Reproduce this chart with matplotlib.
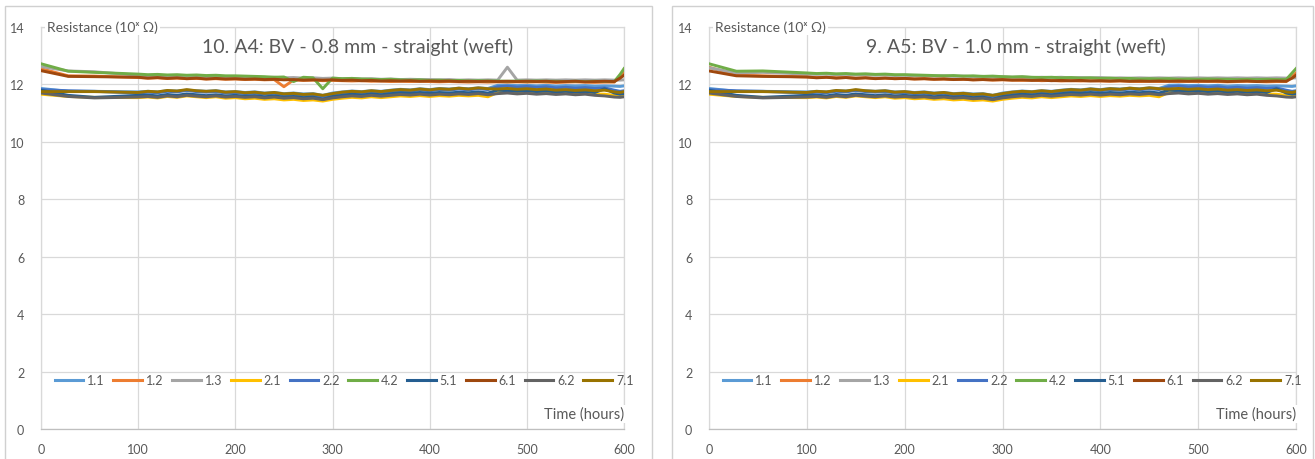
import matplotlib
matplotlib.use("Agg")
import matplotlib.pyplot as plt
from matplotlib.patches import Rectangle

plt.rcParams['font.family'] = ['Lato', 'DejaVu Sans']

# ---------------- data ----------------
hours = [0, 28, 55] + list(range(100, 600, 10)) + [596, 600]

series_names = ["1.1", "1.2", "1.3", "2.1", "2.2", "4.2", "5.1", "6.1", "6.2", "7.1"]
series_colors = ["#5B9BD5", "#ED7D31", "#A5A5A5", "#FFC000", "#4472C4",
                 "#70AD47", "#255E91", "#9E480E", "#636363", "#997300"]

# lower group (same in both panels)
s11 = [11.86, 11.76, 11.76,
       11.74, 11.76, 11.74, 11.78, 11.77, 11.80, 11.78, 11.76, 11.78, 11.74,
       11.75, 11.72, 11.74, 11.70, 11.72, 11.68, 11.70, 11.67, 11.68, 11.62,
       11.70, 11.74, 11.77, 11.75, 11.78, 11.76, 11.80, 11.83, 11.81, 11.85,
       11.82, 11.86, 11.84, 11.87, 11.85, 11.88, 11.86, 11.97, 11.98, 11.96,
       11.97, 11.95, 11.97, 11.94, 11.96, 11.95, 11.96, 11.94, 11.95, 11.94,
       11.93, 11.95]
s21 = [11.66, 11.58, 11.55,
       11.54, 11.56, 11.53, 11.58, 11.55, 11.60, 11.57, 11.54, 11.57, 11.52,
       11.54, 11.50, 11.52, 11.48, 11.50, 11.46, 11.48, 11.44, 11.46, 11.42,
       11.48, 11.52, 11.55, 11.53, 11.57, 11.54, 11.57, 11.60, 11.58, 11.61,
       11.58, 11.61, 11.59, 11.62, 11.60, 11.62, 11.57, 11.72, 11.74, 11.71,
       11.73, 11.70, 11.72, 11.69, 11.71, 11.68, 11.70, 11.67, 11.66, 11.62,
       11.60, 11.62]
s22 = [11.82, 11.78, 11.76,
       11.70, 11.73, 11.71, 11.76, 11.74, 11.79, 11.75, 11.73, 11.75, 11.70,
       11.72, 11.68, 11.70, 11.66, 11.69, 11.64, 11.66, 11.62, 11.64, 11.55,
       11.66, 11.70, 11.73, 11.71, 11.75, 11.72, 11.76, 11.79, 11.77, 11.81,
       11.78, 11.82, 11.80, 11.84, 11.81, 11.85, 11.82, 11.92, 11.94, 11.91,
       11.93, 11.90, 11.92, 11.88, 11.90, 11.87, 11.89, 11.86, 11.88, 11.80,
       11.76, 11.78]
s51 = [11.80, 11.62, 11.55,
       11.62, 11.63, 11.60, 11.65, 11.62, 11.67, 11.64, 11.61, 11.64, 11.60,
       11.62, 11.59, 11.61, 11.57, 11.60, 11.56, 11.58, 11.54, 11.56, 11.48,
       11.58, 11.62, 11.66, 11.63, 11.67, 11.64, 11.68, 11.71, 11.69, 11.72,
       11.69, 11.72, 11.70, 11.73, 11.71, 11.74, 11.70, 11.80, 11.78, 11.76,
       11.78, 11.75, 11.77, 11.74, 11.76, 11.73, 11.75, 11.72, 11.85, 11.70,
       11.66, 11.68]
s62 = [11.70, 11.58, 11.53,
       11.56, 11.58, 11.55, 11.60, 11.57, 11.62, 11.59, 11.57, 11.60, 11.56,
       11.58, 11.55, 11.57, 11.53, 11.56, 11.52, 11.54, 11.50, 11.52, 11.47,
       11.53, 11.57, 11.60, 11.58, 11.62, 11.59, 11.62, 11.65, 11.63, 11.66,
       11.63, 11.66, 11.64, 11.67, 11.65, 11.68, 11.64, 11.68, 11.70, 11.67,
       11.69, 11.66, 11.68, 11.65, 11.67, 11.64, 11.66, 11.62, 11.60, 11.56,
       11.55, 11.57]
s71 = [11.75, 11.75, 11.75,
       11.72, 11.76, 11.74, 11.79, 11.77, 11.82, 11.78, 11.76, 11.78, 11.73,
       11.75, 11.71, 11.73, 11.69, 11.72, 11.67, 11.69, 11.65, 11.67, 11.62,
       11.68, 11.73, 11.76, 11.74, 11.78, 11.75, 11.79, 11.82, 11.80, 11.84,
       11.81, 11.85, 11.83, 11.87, 11.84, 11.88, 11.85, 11.84, 11.86, 11.83,
       11.85, 11.82, 11.84, 11.80, 11.82, 11.79, 11.81, 11.78, 11.80, 11.74,
       11.72, 11.75]

# upper group, left panel (A4)
a4_12 = [12.55, 12.30, 12.29,
         12.24, 12.22, 12.23, 12.21, 12.22, 12.20, 12.21, 12.19, 12.20, 12.18,
         12.19, 12.17, 12.18, 12.16, 12.17, 11.92, 12.16, 12.14, 12.15, 12.13,
         12.14, 12.13, 12.12, 12.13, 12.11, 12.12, 12.10, 12.11, 12.10, 12.11,
         12.10, 12.09, 12.10, 12.09, 12.08, 12.09, 12.08, 12.09, 12.08, 12.09,
         12.08, 12.09, 12.08, 12.07, 12.08, 12.09, 12.08, 12.07, 12.08, 12.08,
         12.30, 12.42]
a4_13 = [12.62, 12.47, 12.44,
         12.32, 12.30, 12.31, 12.29, 12.30, 12.28, 12.29, 12.27, 12.28, 12.26,
         12.27, 12.25, 12.26, 12.24, 12.25, 12.23, 12.24, 12.22, 12.23, 12.21,
         12.22, 12.20, 12.21, 12.19, 12.20, 12.18, 12.19, 12.17, 12.18, 12.17,
         12.17, 12.16, 12.17, 12.15, 12.16, 12.15, 12.16, 12.15, 12.60, 12.15,
         12.16, 12.15, 12.16, 12.15, 12.16, 12.15, 12.16, 12.15, 12.16, 12.15,
         12.15, 12.16]
a4_42 = [12.72, 12.46, 12.42,
         12.36, 12.34, 12.35, 12.33, 12.34, 12.32, 12.33, 12.31, 12.32, 12.30,
         12.30, 12.29, 12.28, 12.27, 12.25, 12.26, 12.10, 12.25, 12.23, 11.85,
         12.22, 12.20, 12.21, 12.19, 12.18, 12.17, 12.18, 12.16, 12.15, 12.16,
         12.14, 12.15, 12.13, 12.14, 12.12, 12.13, 12.12, 12.12, 12.11, 12.12,
         12.11, 12.12, 12.11, 12.11, 12.10, 12.11, 12.10, 12.11, 12.10, 12.10,
         12.35, 12.55]
a4_61 = [12.48, 12.28, 12.27,
         12.25, 12.22, 12.24, 12.21, 12.23, 12.20, 12.22, 12.19, 12.21, 12.19,
         12.20, 12.18, 12.19, 12.17, 12.18, 12.16, 12.17, 12.15, 12.16, 12.15,
         12.16, 12.14, 12.15, 12.13, 12.14, 12.12, 12.13, 12.12, 12.13, 12.11,
         12.12, 12.11, 12.12, 12.10, 12.11, 12.10, 12.11, 12.10, 12.11, 12.10,
         12.11, 12.10, 12.11, 12.09, 12.10, 12.11, 12.09, 12.10, 12.11, 12.10,
         12.22, 12.32]

# upper group, right panel (A5)
a5_12 = [12.60, 12.32, 12.30,
         12.26, 12.24, 12.25, 12.23, 12.24, 12.22, 12.23, 12.21, 12.22, 12.20,
         12.21, 12.19, 12.20, 12.18, 12.19, 12.17, 12.18, 12.16, 12.17, 12.15,
         12.16, 12.15, 12.14, 12.15, 12.13, 12.14, 12.12, 12.13, 12.12, 12.13,
         12.12, 12.11, 12.12, 12.11, 12.10, 12.11, 12.10, 12.11, 12.10, 12.11,
         12.10, 12.11, 12.10, 12.09, 12.10, 12.11, 12.10, 12.09, 12.10, 12.10,
         12.28, 12.40]
a5_13 = [12.58, 12.40, 12.42,
         12.36, 12.35, 12.36, 12.34, 12.35, 12.33, 12.34, 12.32, 12.33, 12.31,
         12.32, 12.30, 12.31, 12.29, 12.30, 12.28, 12.29, 12.27, 12.28, 12.26,
         12.27, 12.25, 12.26, 12.24, 12.25, 12.24, 12.25, 12.23, 12.24, 12.23,
         12.24, 12.22, 12.23, 12.22, 12.23, 12.22, 12.23, 12.22, 12.23, 12.22,
         12.23, 12.22, 12.23, 12.22, 12.23, 12.22, 12.23, 12.22, 12.23, 12.22,
         12.22, 12.23]
a5_42 = [12.72, 12.46, 12.47,
         12.40, 12.38, 12.39, 12.37, 12.38, 12.36, 12.37, 12.35, 12.36, 12.34,
         12.34, 12.33, 12.32, 12.31, 12.30, 12.31, 12.29, 12.30, 12.28, 12.29,
         12.27, 12.26, 12.27, 12.25, 12.24, 12.25, 12.23, 12.24, 12.22, 12.23,
         12.21, 12.22, 12.20, 12.21, 12.19, 12.20, 12.19, 12.20, 12.18, 12.19,
         12.18, 12.19, 12.18, 12.18, 12.17, 12.18, 12.17, 12.18, 12.17, 12.17,
         12.40, 12.55]
a5_61 = [12.47, 12.30, 12.28,
         12.26, 12.23, 12.25, 12.22, 12.24, 12.21, 12.23, 12.20, 12.22, 12.20,
         12.21, 12.19, 12.20, 12.18, 12.19, 12.17, 12.18, 12.16, 12.17, 12.16,
         12.17, 12.15, 12.16, 12.14, 12.15, 12.13, 12.14, 12.13, 12.14, 12.12,
         12.13, 12.12, 12.13, 12.11, 12.12, 12.11, 12.12, 12.11, 12.12, 12.11,
         12.12, 12.11, 12.12, 12.10, 12.11, 12.12, 12.10, 12.11, 12.12, 12.11,
         12.22, 12.32]

panel_titles = ["10. A4: BV - 0.8 mm - straight (weft)",
                "9. A5: BV - 1.0 mm - straight (weft)"]
panel_series = [
    [s11, a4_12, a4_13, s21, s22, a4_42, s51, a4_61, s62, s71],
    [s11, a5_12, a5_13, s21, s22, a5_42, s51, a5_61, s62, s71],
]
y_ticks = [0, 2, 4, 6, 8, 10, 12, 14]
x_ticks = [0, 100, 200, 300, 400, 500, 600]

# ---------------- layout ----------------
W, H = 1315, 460
fig = plt.figure(figsize=(W / 100, H / 100), dpi=100)
fig.patch.set_facecolor("white")

boxes = [(5, 652), (672, 1313)]
axes_px = [(41, 624), (709, 1296)]
title_cx = [358, 1016]
legend_cx = [344, 1012]
TXT = "#595959"
GRID = "#d9d9d9"

for i in range(2):
    bx0, bx1 = boxes[i]
    fig.add_artist(Rectangle((bx0 / W, -0.05), (bx1 - bx0) / W, (H - 7) / H + 0.05,
                             transform=fig.transFigure, fill=False,
                             ec="#d0d0d0", lw=1.0))
    ax0, ax1 = axes_px[i]
    ax = fig.add_axes([ax0 / W, (H - 430) / H, (ax1 - ax0) / W, (430 - 28) / H])
    for j, (name, col) in enumerate(zip(series_names, series_colors)):
        ax.plot(hours, panel_series[i][j], color=col, lw=2.1, label=name,
                solid_joinstyle="round", zorder=3 + j)
    ax.set_xlim(0, 600)
    ax.set_ylim(0, 14)
    ax.set_xticks(x_ticks)
    ax.set_yticks(y_ticks)
    ax.grid(True, color=GRID, lw=0.9)
    ax.set_axisbelow(True)
    for side, sp in ax.spines.items():
        sp.set_color("#bfbfbf" if side == "bottom" else GRID)
        sp.set_linewidth(0.9)
    ax.tick_params(length=0, labelsize=9, colors=TXT)
    ax.tick_params(axis="y", pad=12)
    ax.tick_params(axis="x", pad=10)
    ax.text(0.01, 1.0, "Resistance (10ˣ Ω)", transform=ax.transAxes,
            ha="left", va="center", fontsize=10, color=TXT,
            bbox=dict(fc="white", ec="none", pad=1.5), zorder=20)
    fig.text(title_cx[i] / W, 1 - 47 / H, panel_titles[i], ha="center",
             va="center", fontsize=14, color=TXT)
    ax.text(1.0, (430 - 415) / (430 - 28), "Time (hours)", transform=ax.transAxes,
            ha="right", va="center", fontsize=10.5, color=TXT,
            bbox=dict(fc="white", ec="none", pad=1.5), zorder=20)
    ax.legend(loc="center", bbox_to_anchor=(legend_cx[i] / W, 1 - 381 / H),
              bbox_transform=fig.transFigure, ncol=10, frameon=False,
              fontsize=9, handlelength=2.3, handletextpad=0.3,
              columnspacing=0.7, labelcolor=TXT)
    for line in ax.get_legend().get_lines():
        line.set_linewidth(2.2)

fig.savefig("out.png", dpi=100, facecolor="white")
